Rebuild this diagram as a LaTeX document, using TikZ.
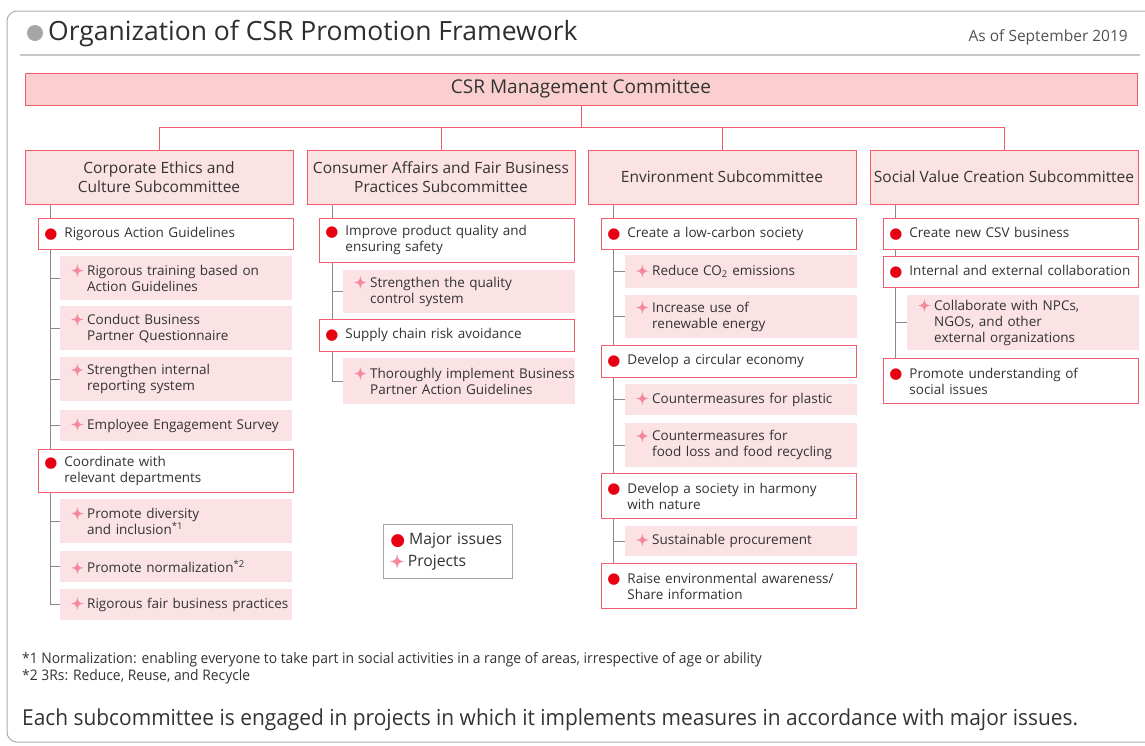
\documentclass[tikz,border=0pt]{standalone}
\usepackage{fontspec}
\setmainfont{Open Sans}
\newfontfamily\symfont{DejaVu Sans}
\newfontfamily\starfont[FakeBold=3]{DejaVu Sans}
\newfontfamily\notefont[FakeStretch=0.95]{Open Sans}
\usetikzlibrary{backgrounds}

\definecolor{boxred}{HTML}{F25C6E}
\definecolor{subfill}{HTML}{FCE3E3}
\definecolor{topfill}{HTML}{FBCFD0}
\definecolor{projfill}{HTML}{FAE2E5}
\definecolor{dotred}{HTML}{E60012}
\definecolor{starpink}{HTML}{F4899B}
\definecolor{inkgray}{HTML}{333333}
\definecolor{treegray}{HTML}{8A8A8A}

\newcommand\issuedot{\raisebox{-0.6pt}{\symfont\fontsize{15}{15}\selectfont\textcolor{dotred}{●}}}
\newcommand\projstar{\raisebox{-0.4pt}{\starfont\fontsize{14}{14}\selectfont\textcolor{starpink}{✦}}}

\tikzset{
  heading/.style={text=inkgray!90!black, inner sep=0pt, font=\fontsize{26.5}{30}\selectfont},
  dateline/.style={text=inkgray!85, inner sep=0pt, font=\fontsize{15.5}{18}\selectfont},
  committee/.style={draw=boxred, line width=0.9pt, fill=topfill, text=inkgray,
    minimum width=1112pt, minimum height=32pt, font=\fontsize{19}{21}\selectfont},
  subcom/.style={draw=boxred, line width=0.9pt, fill=subfill, text=inkgray,
    minimum width=268pt, minimum height=54pt, align=center, font=\fontsize{15.5}{19}\selectfont},
  issue/.style={draw=boxred, line width=0.9pt, fill=white, text=inkgray, anchor=north west,
    text width=253pt, inner xsep=1pt, inner ysep=0pt, align=left, font=\fontsize{13.5}{16}\selectfont,
    execute at begin node={\hyphenpenalty=10000\leftskip=25pt\llap{\issuedot\hspace{7pt}}}},
  project/.style={fill=projfill, text=inkgray, anchor=north west,
    text width=230pt, inner xsep=1pt, inner ysep=0pt, align=left, font=\fontsize{13.5}{16}\selectfont,
    execute at begin node={\hyphenpenalty=10000\leftskip=26pt\llap{\projstar\hspace{4pt}}}},
  link/.style={draw=boxred, line width=0.9pt},
  tree/.style={draw=treegray, line width=0.8pt},
  note/.style={text=inkgray, anchor=west, inner sep=0pt, font=\notefont\fontsize{14.6}{16}\selectfont}
}

\begin{document}
\begin{tikzpicture}[x=1pt, y=-1pt]
\useasboundingbox (0,0) rectangle (1145,745);

% frame runs off the right edge
\begin{scope}
  \clip (0,0) rectangle (1145,745);
  \draw[gray!65, line width=1pt, rounded corners=10pt] (7,11) rectangle (1175,742);
\end{scope}

% heading
\fill[gray!70] (35,33) circle (8pt);
\node[heading, anchor=west] (title) at (48,34) {Organization of CSR Promotion Framework};
\node[dateline, anchor=east] (asof) at (1128,37) {As of September 2019};
\draw[gray!45, line width=1.2pt] (20,55) -- (1140,55);

% committee and subcommittees
\node[committee] (csr) at (581,89) {CSR Management Committee};
\coordinate (bus) at (581,127);

\node[subcom] (sub1) at (159,177) {Corporate Ethics and\\Culture Subcommittee};
\node[subcom] (sub2) at (441,177) {Consumer Affairs and Fair Business\\Practices Subcommittee};
\node[subcom] (sub3) at (722,177) {Environment Subcommittee};
\node[subcom] (sub4) at (1004,177) {Social Value Creation Subcommittee};

\draw[link] (csr.south) -- (csr.south |- bus);
\draw[link] (sub1.north) -- (sub1.north |- bus) -- (sub4.north |- bus) -- (sub4.north);
\draw[link] (sub2.north) -- (sub2.north |- bus);
\draw[link] (sub3.north) -- (sub3.north |- bus);

% corporate ethics
\node[issue, minimum height=31pt] (ce1) at (38,218) {Rigorous Action Guidelines};
\node[project, minimum height=44pt] (cp1) at (60,256) {Rigorous training based on\\Action Guidelines};
\node[project, minimum height=44pt] (cp2) at (60,306) {Conduct Business\\Partner Questionnaire};
\node[project, minimum height=44pt] (cp3) at (60,357) {Strengthen internal\\reporting system};
\node[project, minimum height=31pt] (cp4) at (60,410) {Employee Engagement Survey};
\node[issue, minimum height=43pt] (ce2) at (38,449) {Coordinate with\\relevant departments};
\node[project, minimum height=44pt] (cp5) at (60,499) {Promote diversity\\and inclusion\textsuperscript{*1}};
\node[project, minimum height=31pt] (cp6) at (60,551) {Promote normalization\textsuperscript{*2}};
\node[project, minimum height=31pt] (cp7) at (60,589) {Rigorous fair business practices};

% consumer affairs
\node[issue, minimum height=44pt] (fe1) at (319,218) {Improve product quality and\\ensuring safety};
\node[project, minimum height=43pt] (fp1) at (343,270) {Strengthen the quality\\control system};
\node[issue, minimum height=32pt] (fe2) at (319,319) {Supply chain risk avoidance};
\node[project, minimum height=46pt] (fp2) at (343,358) {\mbox{Thoroughly implement Business}\\Partner Action Guidelines};

% environment
\node[issue, minimum height=31pt] (ee1) at (601,218) {Create a low-carbon society};
\node[project, minimum height=33pt] (ep1) at (625,255) {Reduce CO\textsubscript{2} emissions};
\node[project, minimum height=43pt] (ep2) at (625,295) {Increase use of\\renewable energy};
\node[issue, minimum height=32pt] (ee2) at (601,345) {Develop a circular economy};
\node[project, minimum height=31pt] (ep3) at (625,384) {Countermeasures for plastic};
\node[project, minimum height=44pt] (ep4) at (625,423) {Countermeasures for\\food loss and food recycling};
\node[issue, minimum height=45pt] (ee3) at (601,473) {Develop a society in harmony\\with nature};
\node[project, minimum height=30pt] (ep5) at (625,526) {Sustainable procurement};
\node[issue, minimum height=45pt] (ee4) at (601,563) {Raise environmental awareness/\\Share information};

% social value creation
\node[issue, minimum height=31pt] (se1) at (883,218) {Create new CSV business};
\node[issue, minimum height=31pt] (se2) at (883,256) {Internal and external collaboration};
\node[project, minimum height=55pt] (sp1) at (907,295) {Collaborate with NPCs,\\NGOs, and other\\external organizations};
\node[issue, minimum height=45pt] (se3) at (883,358) {Promote understanding of\\social issues};

% tree lines behind the boxes
\coordinate (t1) at (50,204);
\coordinate (t2) at (332,204);
\coordinate (t3) at (613,204);
\coordinate (t4) at (895,204);
\begin{scope}[on background layer]
  \draw[tree] (t1) |- (cp7.west);
  \draw[tree] (t1 |- cp1.west) -- (cp1.west);
  \draw[tree] (t1 |- cp2.west) -- (cp2.west);
  \draw[tree] (t1 |- cp3.west) -- (cp3.west);
  \draw[tree] (t1 |- cp4.west) -- (cp4.west);
  \draw[tree] (t1 |- cp5.west) -- (cp5.west);
  \draw[tree] (t1 |- cp6.west) -- (cp6.west);

  \draw[tree] (t2) |- (fp2.west);
  \draw[tree] (t2 |- fp1.west) -- (fp1.west);

  \draw[tree] (t3) -- (t3 |- ee4.north);
  \draw[tree] (t3 |- ep1.west) -- (ep1.west);
  \draw[tree] (t3 |- ep2.west) -- (ep2.west);
  \draw[tree] (t3 |- ep3.west) -- (ep3.west);
  \draw[tree] (t3 |- ep4.west) -- (ep4.west);
  \draw[tree] (t3 |- ep5.west) -- (ep5.west);

  \draw[tree] (t4) -- (t4 |- se3.north);
  \draw[tree] (t4 |- sp1.west) -- (sp1.west);
\end{scope}

% legend
\node[draw=gray!70, line width=0.8pt, anchor=north west, text width=115pt, inner xsep=7pt,
  minimum height=54pt, align=left, text=inkgray, font=\fontsize{15.7}{22}\selectfont] (legend) at (383,524)
  {{\symfont\fontsize{17}{17}\selectfont\textcolor{dotred}{\raisebox{-1pt}{●}}}\hspace{4pt}Major issues\\
   {\starfont\fontsize{16}{16}\selectfont\textcolor{starpink}{\raisebox{-1pt}{✦}}}\hspace{4pt}Projects};

% notes
\node[note] (note1) at (22,660) {*1 Normalization: enabling everyone to take part in social activities in a range of areas, irrespective of age or ability};
\node[note] (note2) at (22,677) {*2 3Rs: Reduce, Reuse, and Recycle};
\node[note, font=\notefont\fontsize{22}{26}\selectfont] (summary) at (22,720) {Each subcommittee is engaged in projects in which it implements measures in accordance with major issues.};

\end{tikzpicture}
\end{document}
